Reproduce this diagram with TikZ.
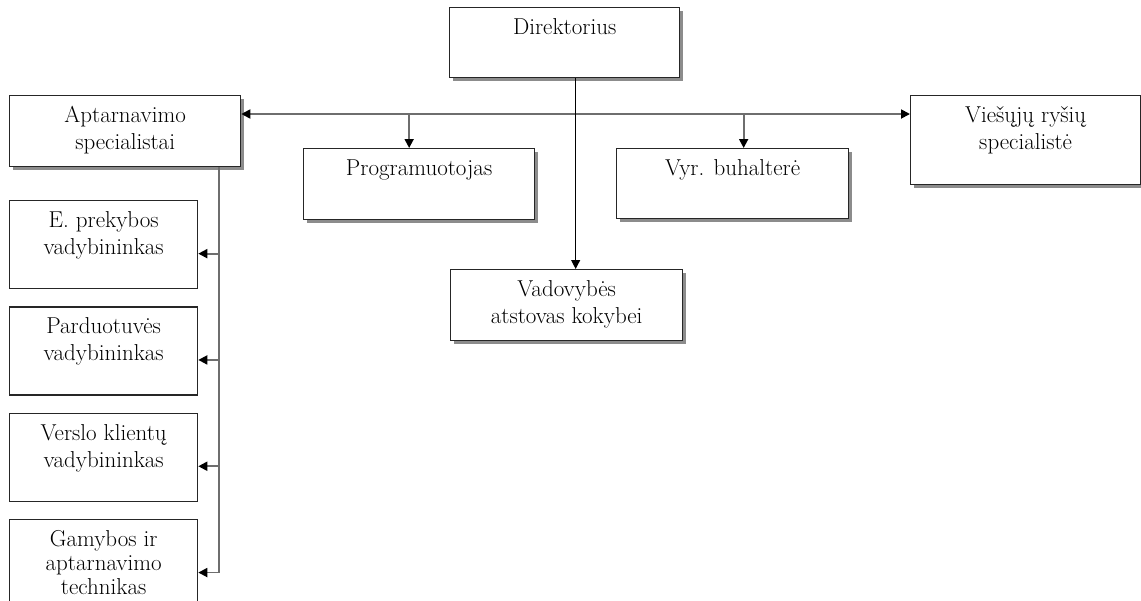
\documentclass[tikz,border=0pt]{standalone}
\usepackage{tikz}
\usetikzlibrary{arrows.meta, positioning, calc, shadows}
\definecolor{linegray}{HTML}{6E6E6E}
\definecolor{shadowgray}{HTML}{8C8C8C}
\definecolor{boxline}{HTML}{262626}

\begin{document}
\begin{tikzpicture}[
    x=1pt, y=-1pt,
    font=\fontsize{23}{27}\selectfont,
    >={Triangle[length=9pt, width=9pt, color=black]},
    postbox/.style 2 args={rectangle, draw=boxline, line width=1.3pt, fill=white, inner sep=0pt, anchor=north west,
        execute at begin node={\begin{minipage}[c][#2][t]{#1}\centering\rule{0pt}{27pt}},
        execute at end node={\end{minipage}}},
    shadowed/.style={drop shadow={shadow xshift=3pt, shadow yshift=-3pt, fill=shadowgray, opacity=1}},
    link/.style={draw=linegray, line width=1.8pt},
    mainlink/.style={draw=black, line width=1pt}
]
\useasboundingbox (0,0) rectangle (1141,600);

% Top level
\node[postbox={230pt}{70pt}, shadowed] (dir) at (449,7) {Direktorius};
\node[postbox={231pt}{71pt}, shadowed] (apt) at (9,95) {Aptarnavimo\\specialistai};
\node[postbox={231pt}{71pt}, shadowed] (prog) at (303,148) {Programuotojas};
\node[postbox={232pt}{70pt}, shadowed] (vyr) at (616,148) {Vyr. buhalterė};
\node[postbox={230pt}{89pt}, shadowed] (vie) at (910,95) {Viešųjų ryšių\\specialistė};
\node[postbox={232pt}{71pt}, shadowed] (vad) at (450,269) {Vadovybės\\atstovas kokybei};

% Service staff
\node[postbox={188pt}{88pt}] (epr) at (9,200) {E. prekybos\\vadybininkas};
\node[postbox={188pt}{88pt}, below=17pt of epr] (par) {Parduotuvės\\vadybininkas};
\node[postbox={188pt}{88pt}, below=17pt of par] (ver) {Verslo klientų\\vadybininkas};
\node[postbox={188pt}{88pt}, below=17pt of ver] (gam) {Gamybos ir\\[-3pt]aptarnavimo\\[-3pt]technikas};

% Connectors
\coordinate (hub) at (575,114);
\coordinate (dirout) at ([xshift=11pt]dir.south);
\coordinate (progin) at ([xshift=-10pt]prog.north);
\coordinate (vyrin) at ([xshift=11pt]vyr.north);
\draw[link, <->] (apt.east |- hub) -- (vie.west |- hub);
\draw[link, ->] (progin |- hub) -- (progin);
\draw[link, ->] (vyrin |- hub) -- (vyrin);
\draw[mainlink, ->] (dirout) -- (dirout |- vad.north);

\coordinate (bus) at ([xshift=93.5pt]apt.south);
\foreach \n in {epr, par, ver, gam} {
    \coordinate (\n-in) at ([yshift=-9pt]\n.east);
    \draw[link, ->] (bus |- \n-in) -- (\n-in);
}
\draw[link] (bus) -- (bus |- gam-in);

\end{tikzpicture}
\end{document}
